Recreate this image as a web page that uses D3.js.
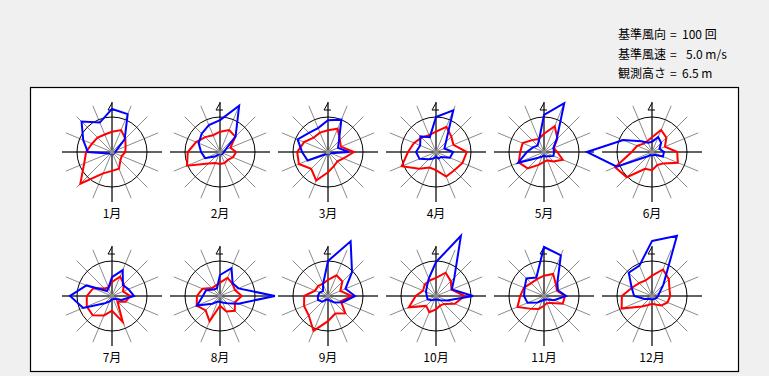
<!DOCTYPE html>
<html>
<head>
<meta charset="utf-8">
<script src="https://cdn.jsdelivr.net/npm/d3@7"></script>
<style>
  body { margin: 0; background: #f0f0f0; }
  text { font-family: "Noto Sans CJK JP", "Noto Sans", sans-serif; }
</style>
</head>
<body>
<div id="chart"></div>
<script>
const months = ["1月", "2月", "3月", "4月", "5月", "6月", "7月", "8月", "9月", "10月", "11月", "12月"];
const directions = ["N", "NNE", "NE", "ENE", "E", "ESE", "SE", "SSE", "S", "SSW", "SW", "WSW", "W", "WNW", "NW", "NNW"];

// wind direction frequency (回), 16 directions from N clockwise
const windCount = [
  [123, 117, 51, 14, 9, 6, 6, 6, 6, 6, 6, 11, 69, 89, 123, 91],
  [91, 143, 63, 17, 11, 9, 9, 6, 6, 6, 17, 46, 54, 66, 74, 83],
  [91, 100, 44, 31, 60, 9, 6, 6, 6, 6, 9, 63, 74, 94, 77, 74],
  [100, 129, 40, 26, 49, 43, 20, 20, 14, 20, 29, 51, 57, 49, 63, 46],
  [106, 151, 51, 29, 29, 29, 17, 14, 11, 14, 23, 80, 49, 34, 26, 37],
  [29, 46, 37, 23, 34, 34, 11, 9, 9, 9, 17, 109, 186, 89, 43, 29],
  [54, 80, 44, 51, 63, 29, 11, 9, 9, 17, 29, 89, 120, 79, 20, 26],
  [60, 86, 51, 57, 157, 57, 29, 20, 17, 17, 31, 71, 49, 43, 26, 23],
  [100, 169, 97, 54, 77, 46, 26, 14, 11, 11, 23, 31, 29, 26, 20, 37],
  [97, 186, 74, 49, 106, 34, 17, 11, 11, 11, 17, 26, 26, 31, 37, 54],
  [140, 126, 54, 43, 63, 31, 14, 11, 11, 14, 26, 51, 57, 60, 71, 57],
  [157, 186, 46, 23, 17, 14, 11, 9, 9, 9, 11, 23, 51, 63, 94, 94]
];

// mean wind speed (m/s) by direction
const windSpeed = [
  [2.9, 3.4, 2.7, 2.1, 1.9, 1.5, 1.7, 2.6, 2.7, 3.3, 6.4, 4.3, 3.7, 3.1, 2.9, 2.7],
  [2.9, 3.4, 3.1, 1.6, 2.3, 2.0, 1.6, 1.7, 1.7, 1.7, 2.3, 5.1, 4.6, 3.7, 3.0, 2.6],
  [3.1, 3.6, 2.4, 2.0, 3.7, 2.4, 1.9, 2.2, 2.9, 4.4, 3.4, 4.5, 4.4, 3.7, 2.9, 3.0],
  [2.9, 3.9, 3.1, 2.7, 4.4, 4.1, 3.7, 3.8, 2.6, 2.4, 3.4, 5.3, 4.0, 3.4, 2.9, 2.6],
  [2.6, 4.0, 2.7, 1.5, 1.9, 2.9, 1.9, 1.3, 1.4, 2.0, 3.3, 3.9, 3.4, 3.3, 2.4, 2.0],
  [2.1, 3.4, 2.9, 2.0, 3.6, 4.0, 2.3, 2.0, 2.6, 2.6, 5.1, 5.7, 2.9, 2.3, 1.7, 1.7],
  [2.0, 3.0, 2.4, 1.7, 2.6, 2.1, 1.1, 4.0, 2.1, 3.0, 3.9, 3.9, 3.6, 2.9, 1.5, 1.3],
  [1.9, 2.8, 2.5, 2.3, 3.1, 2.3, 3.0, 2.4, 1.4, 3.9, 2.9, 3.6, 3.3, 2.7, 1.6, 1.6],
  [2.3, 3.2, 2.9, 1.9, 3.4, 2.0, 3.5, 2.7, 3.6, 5.4, 3.9, 3.7, 3.4, 2.0, 2.0, 1.9],
  [2.6, 3.6, 3.0, 2.4, 4.1, 2.9, 1.6, 1.5, 1.9, 2.5, 2.0, 4.2, 2.9, 2.0, 2.3, 2.4],
  [2.9, 3.4, 2.4, 2.0, 3.0, 2.9, 1.4, 1.1, 1.4, 2.0, 2.6, 4.1, 3.4, 3.1, 2.6, 2.6],
  [2.9, 4.1, 3.4, 2.7, 2.6, 2.4, 1.9, 1.3, 1.1, 1.4, 2.1, 4.7, 4.3, 3.1, 2.6, 2.4]
];

const legendLabels = ["基準風向", "基準風速", "観測高さ"];
const legendValues = ["100 回", "5.0 m/s", "6.5 m"];
const baseCount = 100;
const baseSpeed = 5.0;

const width = 769;
const height = 376;
const ringR = 35;
const spokeR = 50;

const svg = d3
  .select("#chart")
  .append("svg")
  .attr("width", width)
  .attr("height", height);

svg.append("rect").attr("width", width).attr("height", height).attr("fill", "#f0f0f0");

svg
  .append("rect")
  .attr("x", 30.5)
  .attr("y", 87.5)
  .attr("width", 708)
  .attr("height", 284)
  .attr("fill", "#fff")
  .attr("stroke", "#000")
  .attr("stroke-width", 1.2);

const legend = svg
  .append("g")
  .selectAll("g")
  .data(legendLabels)
  .join("g")
  .attr("transform", (d, i) => `translate(618,${39 + i * 19.5})`)
  .attr("font-size", 12);

legend.append("text").text((d) => d);
legend.append("text").attr("x", 52).text("=");
legend
  .append("text")
  .attr("x", (d, i) => (i === 1 ? 68 : 64))
  .text((d, i) => legendValues[i]);

const xPos = d3.scalePoint().domain(d3.range(6)).range([112, 652]);
const yPos = d3.scalePoint().domain(d3.range(2)).range([152, 296]);

const angle = d3.scaleLinear().domain([0, directions.length]).range([0, 2 * Math.PI]);
const rCount = d3.scaleLinear().domain([0, baseCount]).range([0, ringR]);
const rSpeed = d3.scaleLinear().domain([0, baseSpeed]).range([0, ringR]);

const countLine = d3
  .lineRadial()
  .angle((d, i) => angle(i))
  .radius((d) => rCount(d))
  .curve(d3.curveLinearClosed);

const speedLine = d3
  .lineRadial()
  .angle((d, i) => angle(i))
  .radius((d) => rSpeed(d))
  .curve(d3.curveLinearClosed);

const roses = svg
  .selectAll("g.rose")
  .data(months)
  .join("g")
  .attr("class", "rose")
  .attr("transform", (d, i) => `translate(${xPos(i % 6)},${yPos(Math.floor(i / 6))})`);

// grey direction spokes
roses
  .selectAll("line.spoke")
  .data(directions)
  .join("line")
  .attr("class", "spoke")
  .attr("x1", 0)
  .attr("y1", 0)
  .attr("x2", (d, i) => spokeR * Math.sin(angle(i)))
  .attr("y2", (d, i) => -spokeR * Math.cos(angle(i)))
  .attr("stroke", "#8c8c8c")
  .attr("stroke-width", 1);

roses
  .append("line")
  .attr("x1", -spokeR)
  .attr("x2", spokeR)
  .attr("y1", 0)
  .attr("y2", 0)
  .attr("stroke", "#000");

roses
  .append("line")
  .attr("x1", 0)
  .attr("x2", 0)
  .attr("y1", -spokeR)
  .attr("y2", spokeR)
  .attr("stroke", "#000");

roses
  .append("circle")
  .attr("r", ringR)
  .attr("fill", "none")
  .attr("stroke", "#000")
  .attr("stroke-width", 1);

// north mark
roses
  .append("path")
  .attr("d", `M0,${-spokeR + 1}L-4,${-spokeR + 8}L3,${-spokeR + 8}`)
  .attr("fill", "none")
  .attr("stroke", "#000")
  .attr("stroke-width", 1);

roses
  .append("path")
  .attr("d", (d, i) => speedLine(windSpeed[i]))
  .attr("fill", "none")
  .attr("stroke", "#ff0000")
  .attr("stroke-width", 2)
  .attr("stroke-linejoin", "miter");

roses
  .append("path")
  .attr("d", (d, i) => countLine(windCount[i]))
  .attr("fill", "none")
  .attr("stroke", "#0000ff")
  .attr("stroke-width", 2)
  .attr("stroke-linejoin", "miter");

roses
  .append("circle")
  .attr("r", 2.5)
  .attr("fill", "#8c8c8c");

roses
  .append("text")
  .attr("y", 66)
  .attr("text-anchor", "middle")
  .attr("font-size", 12)
  .text((d) => d);
</script>
</body>
</html>
